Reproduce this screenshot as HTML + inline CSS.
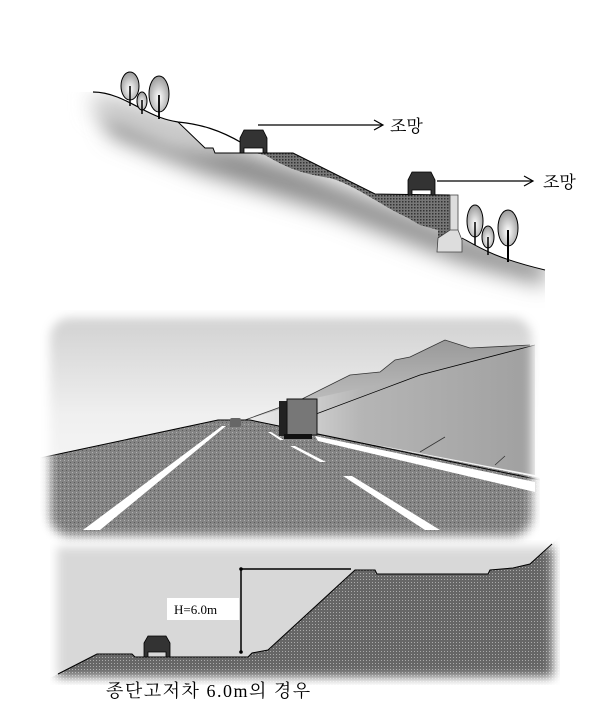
<!DOCTYPE html>
<html><head><meta charset="utf-8"><style>
html,body{margin:0;padding:0;background:#fff;}
svg{display:block;}
text{font-family:"Liberation Serif","Noto Serif CJK SC","Noto Sans CJK KR",serif;}
</style></head><body>
<svg width="600" height="718" viewBox="0 0 600 718" xmlns="http://www.w3.org/2000/svg">
<defs>
<filter id="blur8" x="-30%" y="-30%" width="160%" height="160%"><feGaussianBlur stdDeviation="11"/></filter>
<filter id="blur4" x="-10%" y="-10%" width="120%" height="120%"><feGaussianBlur stdDeviation="5"/></filter>
<mask id="pm"><rect x="50" y="318" width="482" height="218" rx="20" fill="#fff" filter="url(#blur4)"/></mask>
<mask id="bm"><rect x="57" y="547" width="496" height="130" fill="#fff" filter="url(#blur4)"/></mask>
<clipPath id="topclip"><path d="M93,92 C110,92 125,100 140,108 C155,116 165,120 178,122 L205,148 L213,148 L215,153 L293,153 L375,194 L450,195 L457,195 L457,238 L462,238 C480,248 495,258 545,270 L545,330 L60,330 L60,92 Z"/></clipPath>
<pattern id="hatch" width="3" height="3" patternUnits="userSpaceOnUse"><rect width="3" height="3" fill="#777"/><rect width="1.5" height="1.5" fill="#333"/></pattern>
<pattern id="dots" width="3" height="3" patternUnits="userSpaceOnUse"><rect width="3" height="3" fill="#666"/><rect width="1" height="1" fill="#aaa"/></pattern>
<pattern id="noise" width="4" height="4" patternUnits="userSpaceOnUse"><rect width="4" height="4" fill="#848484"/><rect width="1" height="1" fill="#b0b0b0"/><rect x="2" y="2" width="1" height="1" fill="#5a5a5a"/></pattern>
<radialGradient id="tree" cx="0.5" cy="0.6" r="0.6"><stop offset="0" stop-color="#fff"/><stop offset="1" stop-color="#999"/></radialGradient>
<linearGradient id="sky" x1="0" y1="0" x2="0" y2="1"><stop offset="0" stop-color="#cfcfcf"/><stop offset="0.45" stop-color="#f0f0f0"/><stop offset="1" stop-color="#fafafa"/></linearGradient>
<linearGradient id="rhill" x1="0" y1="0" x2="1" y2="0"><stop offset="0" stop-color="#f0f0f0"/><stop offset="0.4" stop-color="#b5b5b5"/><stop offset="1" stop-color="#a0a0a0"/></linearGradient>
<linearGradient id="mtn" x1="0" y1="0" x2="0" y2="1"><stop offset="0" stop-color="#999"/><stop offset="1" stop-color="#e0e0e0"/></linearGradient>
</defs>

<!-- TOP PANEL -->
<g clip-path="url(#topclip)">
<rect x="60" y="80" width="500" height="260" fill="#fff"/>
<path d="M100,105 L180,130 L300,170 L460,235 L545,262 L545,285 L460,262 L330,212 L200,172 L110,135 Z" fill="#8a8a8a" filter="url(#blur8)"/>
<path d="M93,92 L178,122 L240,145 L215,153 L170,150 L93,112 Z" fill="#cfcfcf" filter="url(#blur8)"/>
</g>
<path d="M178,122 C200,124 220,130 242,143 L242,153 L215,153 L213,148 L205,148 Z" fill="#fff"/>
<path d="M255,153 L293,153 L375,194 L450,195 L450,238 L438,238 L438,230 L420,225 L408,218 C380,205 355,185 330,178 C305,174 290,170 265,155 Z" fill="url(#hatch)"/>
<path d="M93,92 C110,92 125,100 140,108 C155,116 165,120 178,122 C200,124 220,130 242,143" fill="none" stroke="#000" stroke-width="1.2"/>
<path d="M178,122 L205,148 L213,148 L215,153 L293,153 L375,194 L450,195" fill="none" stroke="#000" stroke-width="1"/>
<rect x="450" y="195" width="8" height="45" fill="#ddd" stroke="#444" stroke-width="0.8"/>
<path d="M438,238 L450,230 L458,230 L462,240 L462,252 L437,252 Z" fill="#ddd" stroke="#444" stroke-width="0.8"/>
<path d="M462,238 C480,248 495,258 545,270" fill="none" stroke="#000" stroke-width="1"/>
<g stroke="#000" stroke-width="1">
<ellipse cx="130" cy="86" rx="9" ry="14" fill="url(#tree)"/><line x1="130" y1="86" x2="130" y2="106" stroke-width="1.5"/>
<ellipse cx="142" cy="101" rx="5" ry="9" fill="url(#tree)"/><line x1="142" y1="100" x2="142" y2="114" stroke-width="1.5"/>
<ellipse cx="159" cy="94" rx="10" ry="18" fill="url(#tree)"/><line x1="159" y1="95" x2="159" y2="119" stroke-width="1.8"/>
<ellipse cx="475" cy="221" rx="8" ry="16" fill="url(#tree)"/><line x1="475" y1="222" x2="475" y2="245" stroke-width="1.5"/>
<ellipse cx="488" cy="237" rx="6" ry="11" fill="url(#tree)"/><line x1="488" y1="237" x2="488" y2="255" stroke-width="1.5"/>
<ellipse cx="508" cy="228" rx="10" ry="18" fill="url(#tree)"/><line x1="508" y1="230" x2="508" y2="262" stroke-width="2"/>
</g>
<g fill="#333" stroke="#000" stroke-width="0.8">
<path d="M240,153 L240,138 L244,130 L263,130 L267,138 L267,153 L263,153 L263,148 L244,148 L244,153 Z"/>
<path d="M408,195 L408,180 L412,172 L431,172 L435,180 L435,195 L431,195 L431,190 L412,190 L412,195 Z"/>
</g>
<g stroke="#000" stroke-width="1.2" fill="none">
<line x1="258" y1="125" x2="382" y2="125"/><polyline points="374,120 383,125 374,130"/>
<line x1="437" y1="181" x2="532" y2="181"/><polyline points="524,176 533,181 524,186"/>
</g>
<text x="390" y="132" font-size="17">조망</text>
<text x="543" y="188" font-size="17">조망</text>

<!-- MIDDLE PANEL -->
<g mask="url(#pm)">
<rect x="40" y="310" width="500" height="235" fill="url(#sky)"/>
<path d="M245,420 L300,400 L350,375 L380,372 L395,360 L410,357 L445,340 L470,348 L530,345 L530,465 L245,420 Z" fill="url(#mtn)"/>
<path d="M245,420 L320,397 L420,375 L535,345 L535,475 L245,420 Z" fill="url(#rhill)"/>
<path d="M245,420 L300,400 L350,375 L380,372 L395,360 L410,357 L445,340 L470,348 L530,345" fill="none" stroke="#333" stroke-width="0.8"/>
<path d="M300,420 L420,375 L535,345" fill="none" stroke="#000" stroke-width="0.8"/>
<path d="M40,458 L218,420 L250,420 L540,478 L540,545 L40,545 Z" fill="url(#noise)"/>
<path d="M40,458 L218,420 L250,420 L540,480" fill="none" stroke="#000" stroke-width="1"/>
<path d="M83,530 L222,426 L226,426 L100,530 Z" fill="#fff"/>
<path d="M315,436 L535,482 L535,492 L318,441 Z" fill="#fff"/>
<g fill="#fff"><path d="M268,432 L280,440 L284,440 L271,432Z"/><path d="M290,446 L320,462 L326,462 L295,446Z"/><path d="M343,476 L425,530 L440,530 L352,476Z"/></g>
<rect x="230" y="418" width="11" height="9" rx="2" fill="#666"/>
<rect x="279" y="401" width="10" height="35" fill="#222"/>
<rect x="287" y="399" width="30" height="36" fill="#777" stroke="#111" stroke-width="1"/>
<rect x="284" y="434" width="28" height="5" fill="#111"/>
<path d="M420,452 L445,437 M495,465 L505,456" stroke="#333" stroke-width="0.8" fill="none"/>
</g>

<!-- BOTTOM PANEL -->
<g mask="url(#bm)">
<rect x="50" y="540" width="510" height="145" fill="#d8d8d8"/>
<path d="M50,678 L97,654 L132,654 L135,657 L248,657 L252,653 L268,650 L355,570 L375,570 L377,574 L488,574 L490,570 L513,568 L530,564 L560,536 L560,685 L50,685 Z" fill="url(#dots)"/>
</g>
<path d="M58,674 L97,654 L132,654 L135,657 L248,657 L252,653 L268,650 L355,570 L375,570 L377,574 L488,574 L490,570 L513,568 L530,564 L552,544" fill="none" stroke="#000" stroke-width="1"/>
<line x1="241" y1="569" x2="241" y2="652" stroke="#000" stroke-width="1.5"/>
<line x1="241" y1="569" x2="351" y2="569" stroke="#000" stroke-width="1.5"/>
<circle cx="241" cy="569" r="1.8"/><circle cx="241" cy="652" r="1.8"/>
<rect x="167" y="598" width="72" height="22" fill="#fff"/>
<text x="174" y="614" font-size="13" font-family="Liberation Mono, monospace">H=6.0m</text>
<path d="M144,657 L144,643 L148,636 L166,636 L170,643 L170,657 L166,657 L166,652 L148,652 L148,657 Z" fill="#333" stroke="#000" stroke-width="0.8"/>
<text x="106" y="697" font-size="18" letter-spacing="1.5">종단고저차 6.0m의 경우</text>
</svg>
</body></html>
